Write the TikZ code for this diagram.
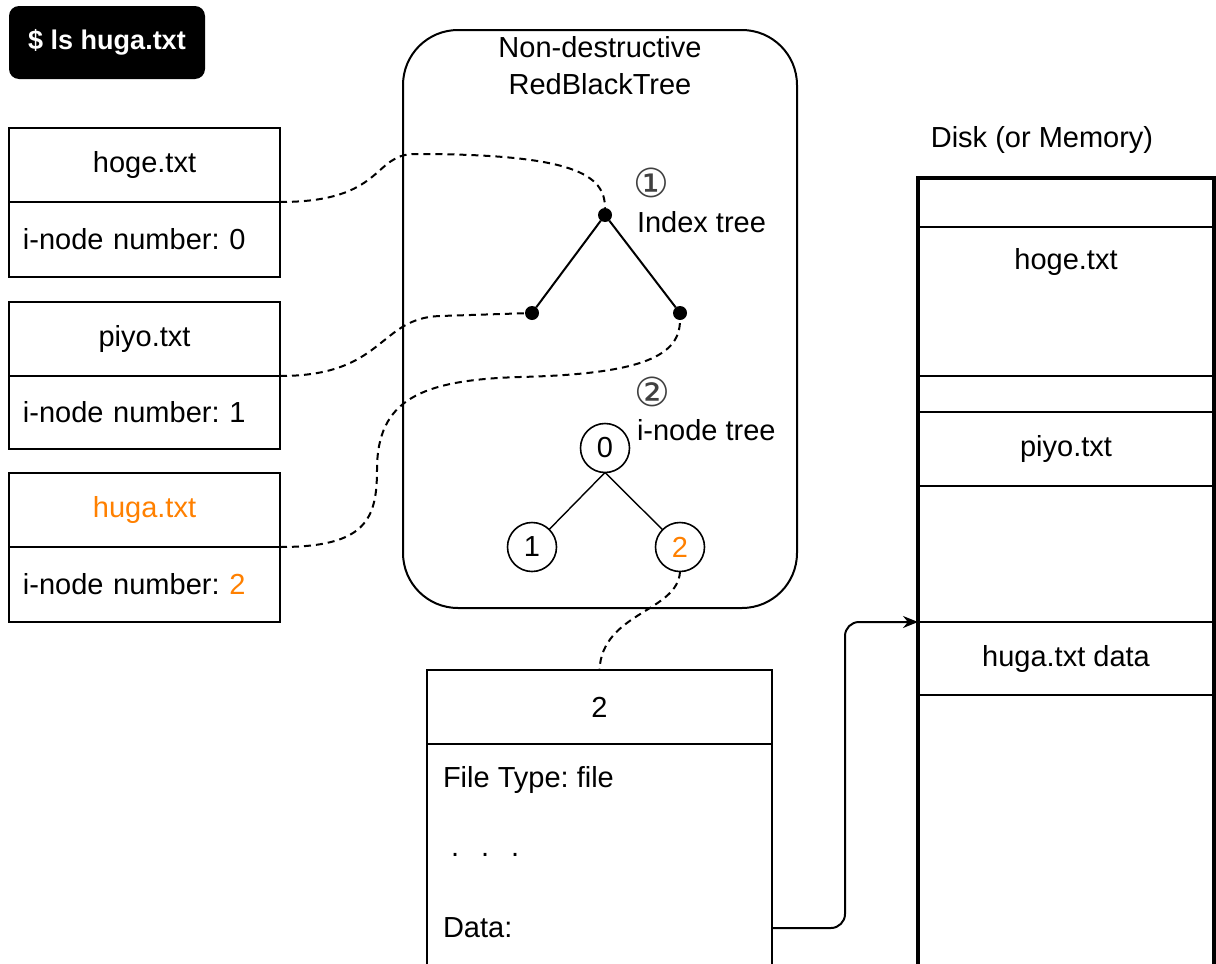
\documentclass[tikz,border=0pt]{standalone}
\usepackage{fontspec}
\setmainfont{Liberation Sans}
\newfontfamily\circfont{DejaVu Sans}
\usepackage{tikz}
\usetikzlibrary{positioning,arrows.meta}
\definecolor{hugaorange}{RGB}{255,128,0}
\frenchspacing

\begin{document}
\begin{tikzpicture}[x=1pt, y=-1pt,
  every node/.style={font=\fontsize{29}{37}\selectfont, inner sep=0pt, outer sep=0pt},
  box/.style={draw, line width=2pt, minimum width=271pt},
  numbox/.style={draw, line width=2pt, text width=243pt, inner xsep=14pt, align=left},
  dot/.style={circle, fill=black, minimum size=14pt},
  inode/.style={draw, circle, line width=1.6pt, minimum size=49pt},
  row/.style={draw, line width=2pt, minimum width=296pt},
  circnum/.style={font=\fontsize{40}{40}\selectfont\circfont, text=black!75},
  link/.style={line width=2pt, dash pattern=on 7pt off 5pt}]
\useasboundingbox (0,0) rectangle (1216,964);
\clip (0,0) rectangle (1216,964);

%% command
\node[fill=black, rounded corners=10pt, minimum width=196pt, minimum height=73pt, text=white, font=\fontsize{27}{32}\selectfont\bfseries] (cmd) at (107,42.5) {\$ ls huga.txt};

%% directory entries
\node[box, minimum height=74pt] (hogename) at (144.5,165) {hoge.txt};
\node[numbox, minimum height=75pt, below=0pt of hogename] (hogenum) {i-node number: 0};
\node[box, minimum height=74pt] (piyoname) at (144.5,339) {piyo.txt};
\node[numbox, minimum height=73pt, below=0pt of piyoname] (piyonum) {i-node number: 1};
\node[box, minimum height=74pt, text=hugaorange] (huganame) at (144.5,510) {huga.txt};
\node[numbox, minimum height=75pt, below=0pt of huganame] (huganum) {i-node number: \textcolor{hugaorange}{2}};

%% red black tree
\node[draw, line width=2pt, rounded corners=55pt, minimum width=394pt, minimum height=578pt] (rbt) at (600,319) {};
\node[align=center] (rbttitle) at (600,66) {Non-destructive\\RedBlackTree};

%% index tree
\node[dot] (iroot) at (605,215) {};
\node[dot] (ileft) at (532,313) {};
\node[dot] (iright) at (680,313) {};
\draw[line width=2pt] (ileft) -- (iroot) -- (iright);
\node[circnum] (idxnum) at (651,183) {①};
\node[anchor=west] (idxlabel) at (637,222) {Index tree};

%% i-node tree
\node[circnum] (inodenum) at (652,392) {②};
\node[anchor=west] (inodelabel) at (637,430) {i-node tree};
\node[inode] (n0) at (605,448) {0};
\node[inode] (n1) at (532,547) {1};
\node[inode, text=hugaorange] (n2) at (680,547) {2};
\draw[line width=1.4pt] (n0.south) -- (n1);
\draw[line width=1.4pt] (n0.south) -- (n2);

%% i-node
\node[draw, line width=2pt, minimum width=345pt, minimum height=74pt] (ititle) at (599.5,707) {2};
\node[draw, line width=2pt, minimum width=345pt, minimum height=280pt, below=0pt of ititle] (ibody) {};
\node[anchor=west] (ftype) at (443,780) {File Type: file};
\node[anchor=base west] (idots) at (451,856) {.\hspace{22pt}.\hspace{22pt}.};
\node[anchor=west] (idata) at (443,928) {Data:};

%% disk
\node (disklabel) at (1042,140) {Disk (or Memory)};
\node[row, minimum height=49pt] (d0) at (1066,202.5) {};
\node[row, minimum height=149pt, below=0pt of d0] (d1) {};
\node[row, minimum height=36pt, below=0pt of d1] (d2) {};
\node[row, minimum height=74pt, below=0pt of d2] (d3) {piyo.txt};
\node[row, minimum height=136pt, below=0pt of d3] (d4) {};
\node[row, minimum height=73pt, below=0pt of d4] (d5) {huga.txt data};
\node[row, minimum height=300pt, below=0pt of d5] (d6) {};
\node (dhoge) at (1066,262) {hoge.txt};
\draw[line width=3.5pt] (d0.north west) rectangle (d6.south east);

%% links
\coordinate (hogebend) at (415,154);
\coordinate (piyobend) at (440,316);
\coordinate (hugabend1) at (377,470);
\coordinate (hugabend2) at (520,377);
\coordinate (databend) at (845,622);
\draw[link] (hogename.south east) .. controls (385,202) and (372,154) .. (hogebend) .. controls (575,154) and (605,175) .. (iroot.north);
\draw[link] (piyoname.south east) .. controls (385,376) and (378,318) .. (piyobend) -- (ileft);
\draw[link] (huganame.south east) .. controls (365,547) and (377,520) .. (hugabend1) .. controls (377,400) and (420,380) .. (hugabend2) .. controls (645,374) and (680,355) .. (iright.south);
\draw[link] (n2.south) .. controls (678,612) and (602,612) .. (ititle.north);
\draw[line width=2pt, rounded corners=14pt, -{Stealth[length=15pt, width=12pt]}] (idata -| ibody.east) -| (databend) -- (d5.north west);

\end{tikzpicture}
\end{document}
